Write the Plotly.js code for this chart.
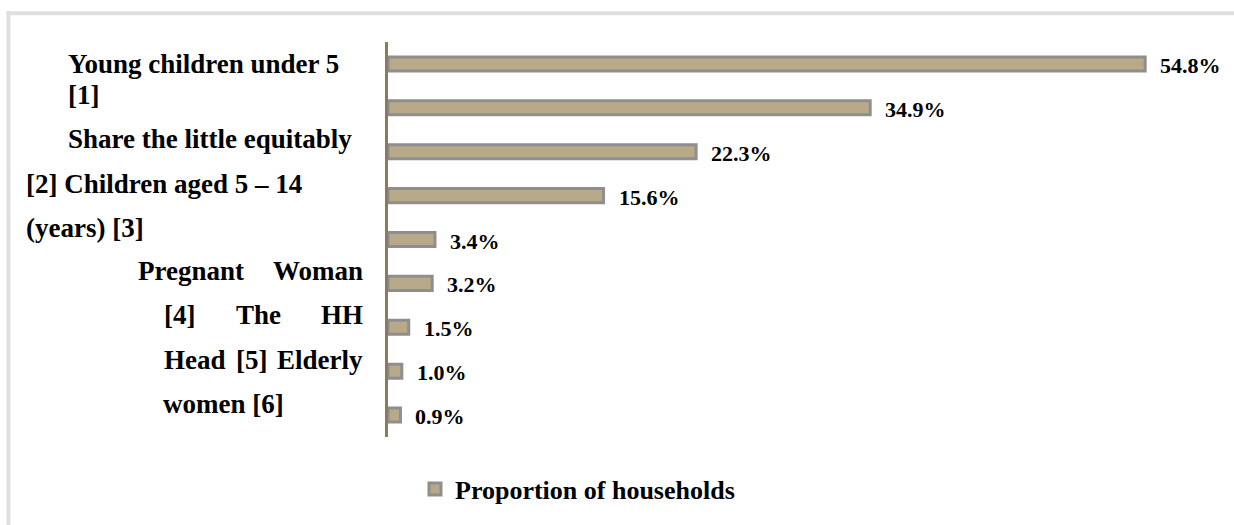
<!DOCTYPE html>
<html>
<head>
<meta charset="utf-8">
<script src="https://cdn.plot.ly/plotly-3.0.1.min.js"></script>
<style>
  html, body { margin: 0; padding: 0; background: #ffffff; }
  #chart { width: 1234px; height: 525px; }
</style>
</head>
<body>
<div id="chart"></div>
<script>
// ---- data ----
const categories = ["Item 1", "Item 2", "Item 3", "Item 4", "Item 5", "Item 6", "Item 7", "Item 8", "Item 9"];
const values = [54.8, 34.9, 22.3, 15.6, 3.4, 3.2, 1.5, 1.0, 0.9];
const seriesName = "Proportion of households";
const labelLines = [
  ["Young children under 5"],
  ["[1]"],
  ["Share the little equitably"],
  ["[2] Children aged 5 – 14"],
  ["(years) [3]"],
  ["Pregnant", "Woman"],
  ["[4]", "The", "HH"],
  ["Head", "[5]", "Elderly"],
  ["women [6]"]
];

// ---- layout geometry (pixels) ----
const W = 1234, H = 525;
const M = { l: 388, r: 17, t: 42, b: 85 };
const PW = W - M.l - M.r, PH = H - M.t - M.b;
const px2x = p => (p - M.l) / PW;
const px2y = p => (H - M.b - p) / PH;

const FONT = '"Liberation Serif", "DejaVu Serif", serif';
const labelSize = 27;
// left edge, right edge (for justified lines), vertical centre of each label line
const lineLeft  = [68, 68, 68, 26, 26, 138, 164, 164, 163];
const lineRight = [null, null, null, null, null, 363, 363, 363, null];
const lineY     = [64.5, 95, 140, 185, 229, 272.5, 317.5, 362.5, 407];

// measure words for justification
const cv = document.createElement('canvas');
const ctx = cv.getContext('2d');
ctx.font = 'bold ' + labelSize + 'px "Liberation Serif"';

const annotations = [];
labelLines.forEach((words, i) => {
  const y = px2y(lineY[i]);
  if (words.length === 1 || lineRight[i] === null) {
    annotations.push({
      xref: 'paper', yref: 'paper', x: px2x(lineLeft[i]), y: y,
      xanchor: 'left', yanchor: 'middle', showarrow: false,
      borderpad: 0, borderwidth: 0,
      text: words.join(' '),
      font: { family: FONT, size: labelSize, color: '#000000', weight: 'bold' }
    });
  } else {
    const widths = words.map(w => ctx.measureText(w).width);
    const total = widths.reduce((a, b) => a + b, 0);
    const gap = (lineRight[i] - lineLeft[i] - total) / (words.length - 1);
    let xpos = lineLeft[i];
    words.forEach((w, k) => {
      const last = k === words.length - 1;
      annotations.push({
        xref: 'paper', yref: 'paper',
        x: px2x(last ? lineRight[i] : xpos), y: y,
        xanchor: last ? 'right' : 'left', yanchor: 'middle', showarrow: false,
        borderpad: 0, borderwidth: 0,
        text: w,
        font: { family: FONT, size: labelSize, color: '#000000', weight: 'bold' }
      });
      xpos += widths[k] + gap;
    });
  }
});

// value labels at bar ends
values.forEach((v, i) => {
  annotations.push({
    xref: 'x', yref: 'y', x: v, y: categories[i],
    xanchor: 'left', yanchor: 'middle', showarrow: false,
    xshift: 15, yshift: -1.5, borderpad: 0, borderwidth: 0,
    text: v.toFixed(1) + '%',
    font: { family: FONT, size: 22, color: '#000000', weight: 'bold' }
  });
});

const frameColor = '#dfdfdf';
const shapes = [
  { type: 'line', xref: 'paper', yref: 'paper', x0: px2x(6.5), x1: px2x(W + 5), y0: px2y(13), y1: px2y(13),
    line: { color: frameColor, width: 4 } },
  { type: 'line', xref: 'paper', yref: 'paper', x0: px2x(8.5), x1: px2x(8.5), y0: px2y(11), y1: px2y(H + 5),
    line: { color: frameColor, width: 4 } }
];

const trace = {
  type: 'bar', orientation: 'h',
  x: values, y: categories,
  name: '<b>' + seriesName + '</b>',
  marker: { color: '#b8aa88', line: { color: '#8e8e8e', width: 3 } },
  hoverinfo: 'none',
  showlegend: true
};

const layout = {
  width: W, height: H,
  margin: M,
  paper_bgcolor: '#ffffff', plot_bgcolor: 'rgba(0,0,0,0)',
  font: { family: FONT, color: '#000000' },
  bargap: 0.68,
  showlegend: true,
  legend: {
    orientation: 'h', x: px2x(415), xanchor: 'left', y: px2y(492.5), yanchor: 'middle',
    font: { family: FONT, size: 26, color: '#000000', weight: 'bold' },
    bgcolor: 'rgba(0,0,0,0)', borderwidth: 0
  },
  xaxis: {
    range: [0, 60], visible: false, showgrid: false, zeroline: false, fixedrange: true
  },
  yaxis: {
    type: 'category', categoryorder: 'array', categoryarray: categories,
    autorange: 'reversed',
    showticklabels: false, ticks: '', showgrid: false, zeroline: false,
    showline: true, linecolor: '#8c7b56', linewidth: 3, fixedrange: true
  },
  annotations: annotations,
  shapes: shapes
};

Plotly.newPlot('chart', [trace], layout, { displayModeBar: false, staticPlot: true });
</script>
</body>
</html>
